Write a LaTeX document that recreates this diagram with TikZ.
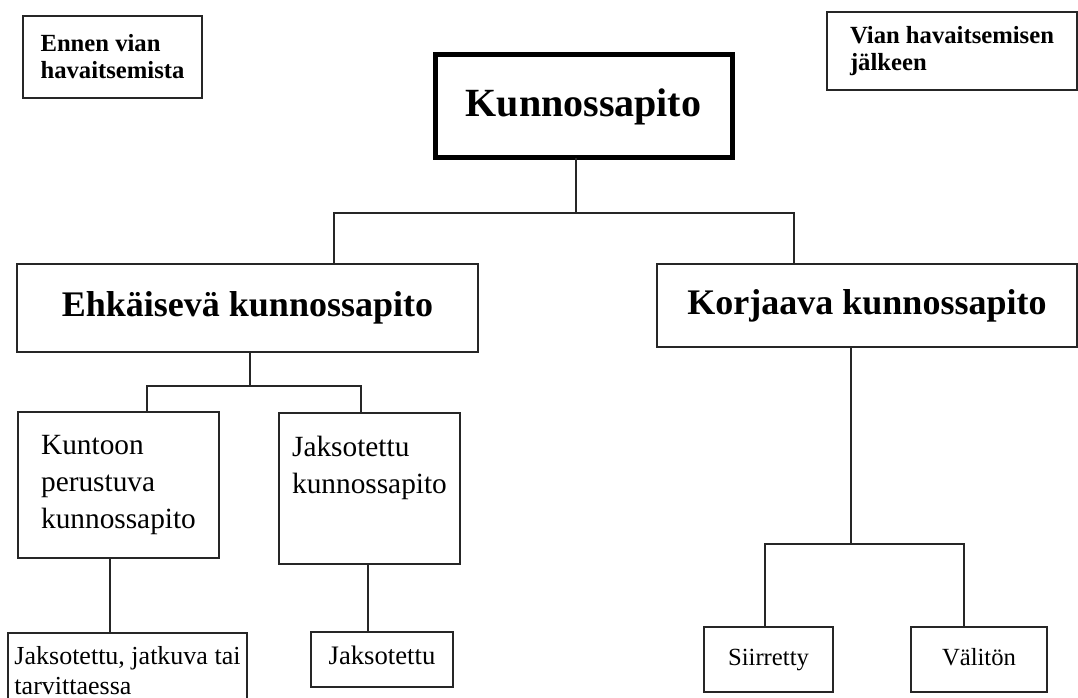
\documentclass[tikz,border=0pt]{standalone}
\usepackage{fontspec}
\setmainfont{Liberation Serif}
\newcommand\fsz[2]{\fontsize{#1}{#2}\selectfont}

\begin{document}
\begin{tikzpicture}[
                x=0.75pt, y=-0.75pt,
                box/.style={draw=black!85, line width=0.9pt, outer sep=0pt, inner sep=0pt, anchor=north west, align=left},
                link/.style={draw=black!85, line width=0.9pt},
            ]
                \clip (0,0) rectangle (1078,698);
                % side notes
                \node[box, minimum width=134.25pt, minimum height=61.5pt, font=\fsz{18.5pt}{20.25pt}\bfseries] (ennen) at (23,16) {Ennen vian\\havaitsemista};
                \node[box, minimum width=187.5pt, minimum height=58.5pt, font=\fsz{18.5pt}{20.25pt}\bfseries] (vian) at (827,12) {Vian havaitsemisen\\j\"alkeen};
                % main tree
                \node[box, line width=3.75pt, draw=black, minimum width=222.75pt, minimum height=77.25pt, font=\fsz{30pt}{36pt}\bfseries] (kp) at (435,55) {Kunnossapito};
                \node[box, minimum width=345.75pt, minimum height=66pt, font=\fsz{27pt}{32pt}\bfseries] (ehk) at (17,264) {Ehk\"aisev\"a kunnossapito};
                \node[box, minimum width=315pt, minimum height=62.25pt, font=\fsz{27pt}{32pt}\bfseries] (kor) at (657,264) {Korjaava kunnossapito};
                \node[box, minimum width=150.75pt, minimum height=109.5pt, font=\fsz{22pt}{27.75pt}] (kun) at (18,412) {Kuntoon\\perustuva\\kunnossapito};
                \node[box, minimum width=135.75pt, minimum height=113.25pt, font=\fsz{22pt}{27.75pt}] (jak) at (279,413) {Jaksotettu\\kunnossapito\\\strut};
                \node[box, minimum width=179.25pt, minimum height=56.25pt, font=\fsz{19.5pt}{22.5pt}] (jjt) at (8,633) {Jaksotettu, jatkuva tai\\tarvittaessa};
                \node[box, minimum width=106.5pt, minimum height=41.25pt, text depth=7pt, font=\fsz{20pt}{24pt}] (jk) at (311,632) {Jaksotettu};
                \node[box, minimum width=96.75pt, minimum height=48.75pt, text depth=4pt, font=\fsz{18.5pt}{22pt}] (sii) at (704,627) {Siirretty};
                \node[box, minimum width=102pt, minimum height=48.75pt, text depth=4pt, font=\fsz{18.5pt}{22pt}] (val) at (911,627) {V\"alit\"on};
                % junctions
                \coordinate (bus1m) at (576,213);
                \coordinate (bus1l) at (334,213);
                \coordinate (bus1r) at (794,213);
                \coordinate (bus2m) at (250,386);
                \coordinate (bus2l) at (147,386);
                \coordinate (bus2r) at (361,386);
                \coordinate (kunout) at (110,558);
                \coordinate (jakout) at (368,564);
                \coordinate (bus3m) at (851,544);
                \coordinate (bus3l) at (765,544);
                \coordinate (bus3r) at (964,544);
                % connectors
                \draw[link] (bus1m |- kp.south) -- (bus1m);
                \draw[link] (bus1l |- ehk.north) -- (bus1l) -- (bus1r) -- (bus1r |- kor.north);
                \draw[link] (bus2m |- ehk.south) -- (bus2m);
                \draw[link] (bus2l |- kun.north) -- (bus2l) -- (bus2r) -- (bus2r |- jak.north);
                \draw[link] (kunout |- kun.south) -- (kunout |- jjt.north);
                \draw[link] (jakout |- jak.south) -- (jakout |- jk.north);
                \draw[link] (bus3m |- kor.south) -- (bus3m);
                \draw[link] (bus3l |- sii.north) -- (bus3l) -- (bus3r) -- (bus3r |- val.north);
            \end{tikzpicture}
\end{document}
